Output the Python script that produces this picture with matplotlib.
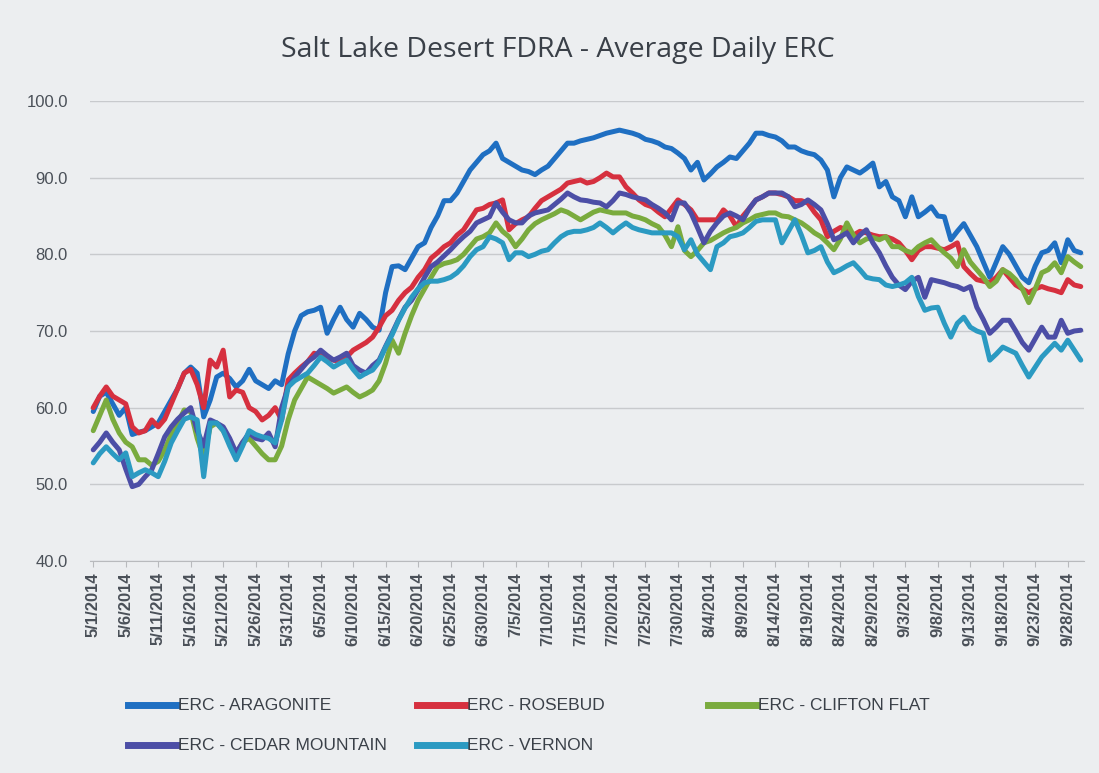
import matplotlib
matplotlib.use("Agg")
import matplotlib.pyplot as plt
from matplotlib.lines import Line2D
import numpy as np
import pandas as pd

title = "Salt Lake Desert FDRA - Average Daily ERC"
series_names = ["ERC - ARAGONITE", "ERC - ROSEBUD", "ERC - CLIFTON FLAT",
                "ERC - CEDAR MOUNTAIN", "ERC - VERNON"]
colors = ["#1f6fc2", "#d6303f", "#7aab3e", "#4c4ea6", "#2b9ac2"]

dates = pd.date_range("2014-05-01", "2014-09-30", freq="D")

aragonite = [
    59.5, 61.5, 62.0, 60.5, 59.0, 60.0, 56.5, 56.8, 57.0, 57.5,
    58.0, 59.5, 61.0, 62.5, 64.5, 65.3, 64.5, 58.8, 61.0, 64.0,
    64.5, 63.8, 62.7, 63.5, 65.0, 63.5, 63.0, 62.5, 63.5, 63.0,
    67.0, 70.0, 72.0, 72.5, 72.7, 73.1, 69.7, 71.5, 73.1, 71.5,
    70.5, 72.3, 71.5, 70.5, 70.1, 75.0, 78.4, 78.5, 78.0, 79.5,
    81.0, 81.5, 83.5, 85.0, 87.0, 87.0, 88.0, 89.5, 91.0, 92.0,
    93.0, 93.5, 94.5, 92.5, 92.0, 91.5, 91.0, 90.8, 90.4, 91.0,
    91.5, 92.5, 93.5, 94.5, 94.5, 94.8, 95.0, 95.2, 95.5, 95.8,
    96.0, 96.2, 96.0, 95.8, 95.5, 95.0, 94.8, 94.5, 94.0, 93.8,
    93.2, 92.5, 91.0, 92.0, 89.7, 90.5, 91.4, 92.0, 92.7, 92.5,
    93.5, 94.5, 95.8, 95.8, 95.5, 95.3, 94.8, 94.0, 94.0, 93.5,
    93.2, 93.0, 92.3, 91.0, 87.5, 90.0, 91.4, 91.0, 90.6, 91.2,
    91.9, 88.8, 89.5, 87.5, 87.0, 84.9, 87.5, 84.9, 85.5, 86.2,
    85.0, 84.9, 81.9, 83.0, 84.0, 82.5, 81.0, 79.0, 77.0, 79.0,
    81.0, 80.0, 78.5, 77.0, 76.3, 78.5, 80.2, 80.5, 81.5, 78.9,
    81.9, 80.5, 80.2]

rosebud = [
    60.0, 61.5, 62.7, 61.5, 61.0, 60.5, 57.5, 56.7, 57.0, 58.4,
    57.5, 58.5, 60.5, 62.5, 64.5, 65.0, 63.0, 60.0, 66.2, 65.3,
    67.5, 61.4, 62.3, 62.0, 60.0, 59.5, 58.4, 59.0, 60.0, 58.4,
    63.6, 64.5, 65.3, 66.0, 67.1, 66.8, 66.5, 66.2, 66.0, 66.6,
    67.5, 68.0, 68.5, 69.2, 70.5, 72.0, 72.7, 74.0, 75.0, 75.7,
    77.0, 78.0, 79.5, 80.2, 81.0, 81.5, 82.5, 83.2, 84.5, 85.8,
    86.0, 86.5, 86.7, 87.1, 83.2, 84.0, 84.5, 84.9, 86.0, 87.0,
    87.5, 88.0, 88.5, 89.3, 89.5, 89.7, 89.3, 89.5, 90.0, 90.6,
    90.1, 90.1, 88.8, 88.0, 87.1, 86.5, 86.2, 85.5, 84.9, 86.0,
    87.1, 86.5, 85.8, 84.5, 84.5, 84.5, 84.5, 85.8, 85.0, 83.6,
    85.0, 86.0, 87.1, 87.5, 88.0, 88.0, 87.8, 87.5, 87.0, 87.0,
    86.7, 85.5, 84.5, 82.3, 83.0, 83.5, 83.2, 82.5, 83.0, 82.8,
    82.5, 82.3, 82.3, 82.0, 81.5, 80.5, 79.3, 80.5, 81.0, 81.0,
    80.8, 80.6, 81.0, 81.5, 78.4, 77.5, 76.7, 76.5, 76.3, 77.0,
    78.0, 77.0, 76.0, 75.5, 75.0, 75.5, 75.8, 75.5, 75.3, 75.0,
    76.7, 76.0, 75.8]

clifton_flat = [
    57.0, 59.0, 61.0, 58.5, 56.7, 55.5, 54.9, 53.2, 53.2, 52.5,
    53.0, 54.5, 56.5, 58.0, 59.7, 59.5, 56.0, 53.5, 57.5, 58.0,
    57.0, 55.5, 53.8, 55.5, 56.0, 55.0, 54.0, 53.2, 53.2, 55.0,
    58.4, 61.0, 62.5, 64.0, 63.5, 63.0, 62.5, 61.9, 62.3, 62.7,
    62.0, 61.4, 61.8, 62.3, 63.5, 65.8, 68.8, 67.1, 69.7, 72.0,
    74.0, 75.5, 77.0, 78.4, 78.8, 79.0, 79.3, 80.0, 81.0, 82.0,
    82.3, 82.8, 84.1, 83.0, 82.3, 81.0, 82.0, 83.2, 84.0, 84.5,
    84.9, 85.3, 85.8, 85.5, 85.0, 84.5, 85.0, 85.5, 85.8, 85.6,
    85.4, 85.4, 85.4, 85.0, 84.8, 84.5, 84.0, 83.6, 82.5, 81.0,
    83.6, 80.5, 79.7, 80.5, 81.5, 81.8, 82.3, 82.8, 83.2, 83.5,
    84.1, 84.5, 85.0, 85.2, 85.4, 85.4, 85.0, 84.9, 84.5, 84.1,
    83.5, 82.8, 82.3, 81.5, 80.6, 82.0, 84.1, 82.5, 81.5, 82.0,
    82.2, 81.9, 82.3, 81.0, 81.0, 80.5, 80.2, 81.0, 81.5, 81.9,
    81.0, 80.2, 79.5, 78.4, 80.6, 79.0, 78.0, 77.0, 75.8, 76.5,
    78.0, 77.5, 76.7, 75.5, 73.7, 75.5, 77.6, 78.0, 78.9, 77.6,
    79.7, 79.0, 78.4]

cedar_mountain = [
    54.5, 55.5, 56.7, 55.5, 54.5, 52.0, 49.7, 50.0, 51.0, 51.9,
    54.0, 56.2, 57.5, 58.5, 59.3, 60.0, 57.0, 55.0, 58.4, 58.0,
    57.5, 56.0, 54.1, 55.5, 56.7, 56.0, 55.8, 56.7, 54.9, 60.0,
    62.7, 64.0, 65.0, 66.0, 66.6, 67.5, 66.8, 66.2, 66.6, 67.1,
    65.5, 64.9, 64.5, 65.5, 66.2, 68.0, 69.7, 71.5, 73.1, 74.0,
    75.4, 77.0, 78.4, 79.0, 79.8, 80.6, 81.5, 82.3, 83.0, 84.1,
    84.5, 84.9, 86.7, 85.5, 84.5, 84.1, 84.1, 85.0, 85.4, 85.6,
    85.8, 86.5, 87.2, 88.0, 87.5, 87.1, 87.0, 86.8, 86.7, 86.2,
    87.0, 88.0, 87.8, 87.5, 87.3, 87.1, 86.5, 86.0, 85.4, 84.5,
    86.7, 86.7, 85.4, 83.5, 81.5, 83.0, 84.1, 85.0, 85.4, 85.0,
    84.5, 86.0, 87.1, 87.5, 88.0, 88.0, 88.0, 87.5, 86.2, 86.5,
    87.1, 86.5, 85.8, 84.0, 81.9, 82.3, 82.8, 81.5, 82.5, 83.2,
    81.5, 80.2, 78.5, 77.0, 76.0, 75.4, 76.5, 77.0, 74.4, 76.7,
    76.5, 76.3, 76.0, 75.8, 75.4, 75.8, 73.1, 71.5, 69.7, 70.5,
    71.4, 71.4, 70.0, 68.5, 67.5, 69.0, 70.5, 69.2, 69.2, 71.4,
    69.7, 70.0, 70.1]

vernon = [
    52.8, 54.0, 54.9, 54.0, 53.2, 54.1, 51.0, 51.5, 51.9, 51.5,
    51.0, 53.0, 55.4, 57.0, 58.5, 58.8, 58.4, 51.0, 58.0, 58.0,
    57.0, 55.0, 53.2, 55.0, 57.0, 56.5, 56.2, 56.0, 55.4, 58.4,
    62.7, 63.5, 64.0, 64.5, 65.5, 66.6, 66.0, 65.3, 65.8, 66.2,
    65.0, 64.0, 64.5, 64.9, 66.0, 67.9, 69.5, 71.4, 73.0, 74.4,
    75.5, 76.3, 76.5, 76.5, 76.7, 77.0, 77.6, 78.5, 79.7, 80.6,
    81.0, 82.3, 82.0, 81.5, 79.3, 80.2, 80.2, 79.7, 80.0, 80.4,
    80.6, 81.5, 82.3, 82.8, 83.0, 83.0, 83.2, 83.5, 84.1, 83.5,
    82.8, 83.5, 84.1, 83.5, 83.2, 83.0, 82.8, 82.8, 82.8, 82.8,
    82.3, 80.6, 81.9, 80.0, 79.0, 78.0, 81.0, 81.5, 82.3, 82.5,
    82.8, 83.5, 84.3, 84.5, 84.5, 84.5, 81.5, 83.0, 84.5, 82.5,
    80.2, 80.5, 81.0, 79.0, 77.6, 78.0, 78.5, 78.9, 78.0, 77.0,
    76.8, 76.7, 76.0, 75.8, 76.0, 76.3, 77.0, 74.5, 72.7, 73.0,
    73.1, 71.0, 69.2, 71.0, 71.8, 70.5, 70.0, 69.7, 66.2, 67.0,
    67.9, 67.5, 67.1, 65.5, 64.0, 65.3, 66.6, 67.5, 68.4, 67.5,
    68.8, 67.5, 66.2]

all_series = [aragonite, rosebud, clifton_flat, cedar_mountain, vernon]
y_ticks = [40, 50, 60, 70, 80, 90, 100]

bg = "#eceef0"
txt = "#4a5058"
plt.rcParams['font.family'] = ['Liberation Sans', 'DejaVu Sans']

fig = plt.figure(figsize=(10.99, 7.73), dpi=100, facecolor=bg)
ax = fig.add_axes([90/1099, 1 - 561/773, 994/1099, 460/773], facecolor=bg)

x = np.arange(len(dates))
for vals, c in zip(all_series, colors):
    ax.plot(x, vals, color=c, lw=3.6, solid_joinstyle='round', solid_capstyle='round')

ax.set_xlim(-0.5, len(dates) - 0.5)
ax.set_ylim(40, 100)
ax.set_yticks(y_ticks)
ax.set_yticklabels([f"{v:.1f}" for v in y_ticks], fontsize=12, color=txt)
ax.yaxis.grid(True, color="#c8cacd", lw=1)
ax.set_axisbelow(True)
tick_idx = np.arange(0, len(dates), 5)
ax.set_xticks(tick_idx)
ax.set_xticklabels([f"{d.month}/{d.day}/{d.year}" for d in dates[tick_idx]],
                   rotation=90, fontsize=12, color=txt, fontweight='bold')
ax.tick_params(axis='y', length=0, pad=16)
ax.tick_params(axis='x', length=4, color="#b8babd", pad=4)
for s in ['top', 'right', 'left']:
    ax.spines[s].set_visible(False)
ax.spines['bottom'].set_color("#b8babd")

fig.text(0.508, 1 - 50/773, title, ha='center', va='center', fontsize=20.5, color="#3a4048",
         family=['Open Sans', 'DejaVu Sans'])

# legend, placed manually like the original
leg_pos = [(128, 705), (417, 705), (708, 705), (128, 745), (417, 745)]
for (lx, ly), name, c in zip(leg_pos, series_names, colors):
    fy = 1 - ly / 773
    fig.add_artist(Line2D([lx/1099, (lx + 48)/1099], [fy, fy], color=c, lw=5,
                          transform=fig.transFigure))
    fig.text((lx + 50)/1099, fy, name, ha='left', va='center', fontsize=12.5, color="#3a4048")

fig.savefig("out.png", dpi=100, facecolor=bg)
